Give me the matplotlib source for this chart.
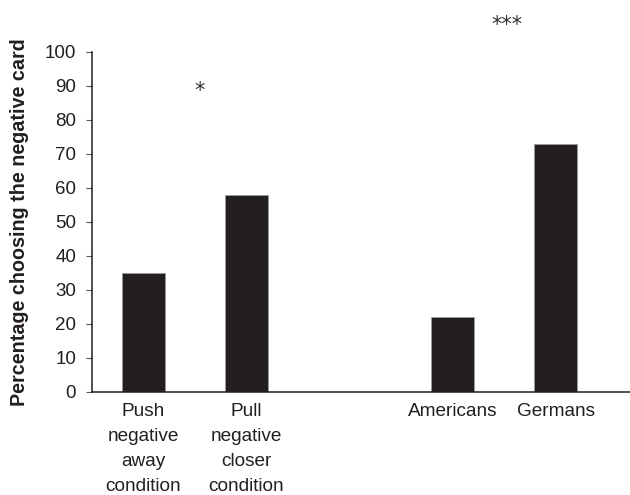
import matplotlib
matplotlib.use('Agg')
import matplotlib.pyplot as plt

plt.rcParams['font.family'] = ['Liberation Sans', 'DejaVu Sans']

# Percentage choosing the negative card per condition / group
categories = ['Push\nnegative\naway\ncondition', 'Pull\nnegative\ncloser\ncondition',
              'Americans', 'Germans']
positions = [0, 1, 3, 4]
percentages = [35, 58, 22, 73]
y_ticks = list(range(0, 101, 10))

# significance markers: (x, y, text)
markers = [(0.54, 88.5, '*'), (3.53, 107.8, '***')]

fig = plt.figure(figsize=(6.3, 4.95), dpi=100)
ax = fig.add_axes([92 / 630, 103 / 495, 538 / 630, 340 / 495])

ax.bar(positions, percentages, width=0.42, color='#231f20',
       edgecolor='#9a9a9a', linewidth=0.6, zorder=2)

ax.set_xlim(-0.5, -0.5 + 538 / 103)
ax.set_ylim(0, 100)
ax.set_yticks(y_ticks)
ax.set_xticks(positions)
ax.set_xticklabels(categories, fontsize=13.7, color='#231f20', linespacing=1.62)
ax.tick_params(axis='x', length=0, pad=8)
ax.tick_params(axis='y', labelsize=13.5, labelcolor='#231f20', length=4.5,
               direction='out', width=0.8, color='#555555', pad=7)

for s in ['top', 'right']:
    ax.spines[s].set_visible(False)
for s in ['left', 'bottom']:
    ax.spines[s].set_linewidth(1.1)
    ax.spines[s].set_color('#231f20')

ax.set_ylabel('Percentage choosing the negative card', fontsize=14.2,
              fontweight='bold', color='#231f20', labelpad=11)

for x, y, t in markers:
    ax.text(x, y, t, ha='center', va='center', fontsize=15,
            family='DejaVu Sans', color='#333333', clip_on=False)

fig.savefig('out.png', dpi=100)
